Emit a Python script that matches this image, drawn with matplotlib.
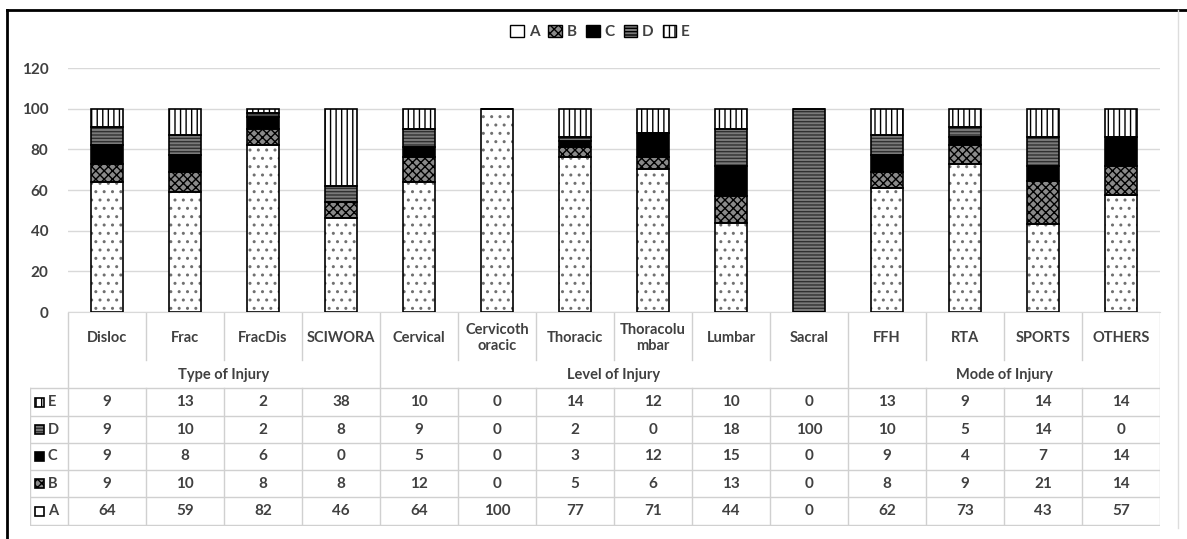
import numpy as np
import matplotlib.pyplot as plt
from matplotlib.patches import Patch, Rectangle
from matplotlib.lines import Line2D

plt.rcParams['font.family'] = ['Lato', 'DejaVu Sans']
plt.rcParams['hatch.linewidth'] = 1.0

categories = ["Disloc", "Frac", "FracDis", "SCIWORA", "Cervical", "Cervicoth\noracic",
              "Thoracic", "Thoracolu\nmbar", "Lumbar", "Sacral", "FFH", "RTA", "SPORTS", "OTHERS"]
groups = ["Type of Injury", "Level of Injury", "Mode of Injury"]
group_sizes = [4, 6, 4]

A = [64, 59, 82, 46, 64, 100, 77, 71, 44, 0, 62, 73, 43, 57]
B = [9, 10, 8, 8, 12, 0, 5, 6, 13, 0, 8, 9, 21, 14]
C = [9, 8, 6, 0, 5, 0, 3, 12, 15, 0, 9, 4, 7, 14]
D = [9, 10, 2, 8, 9, 0, 2, 0, 18, 100, 10, 5, 14, 0]
E = [9, 13, 2, 38, 10, 0, 14, 12, 10, 0, 13, 9, 14, 14]

series = {"A": A, "B": B, "C": C, "D": D, "E": E}
# face colour, hatch, hatch colour
styles = {
    "A": ("white", "..", "#707070"),
    "B": ("#8a8a8a", "xxxx", "black"),
    "C": ("black", None, "black"),
    "D": ("#7a7a7a", "-----", "#303030"),
    "E": ("white", "|||", "black"),
}

W, H = 1187, 539
TXT = "#404040"
GRID = "#d9d9d9"


def px(x0, y0, x1, y1):
    return [x0 / W, 1 - y1 / H, (x1 - x0) / W, (y1 - y0) / H]


fig = plt.figure(figsize=(W / 100, H / 100), dpi=100)

ax = fig.add_axes(px(68, 68, 1160, 312))
x = np.arange(len(categories))
# 100% stacked: each column scaled to its total
totals = np.sum([np.array(v) for v in series.values()], axis=0)
bottom = np.zeros(len(categories))
for name, vals in series.items():
    fc, hatch, hc = styles[name]
    h = np.array(vals) / totals * 100
    ax.bar(x, h, 0.41, bottom=bottom, color=fc, hatch=hatch, edgecolor=hc, linewidth=0, zorder=3)
    ax.bar(x, h, 0.41, bottom=bottom, fill=False, edgecolor="black", linewidth=1.2, zorder=4)
    bottom += h

ax.set_xlim(-0.5, 13.5)
ax.set_ylim(0, 120)
ax.set_yticks(range(0, 121, 20))
ax.set_xticks([])
ax.tick_params(axis="y", length=0, pad=14, labelsize=11, labelcolor=TXT)
for lab in ax.get_yticklabels():
    lab.set_fontweight("bold")
ax.grid(axis="y", color=GRID, linewidth=1, zorder=0)
for s in ["top", "right", "left"]:
    ax.spines[s].set_visible(False)
ax.spines["bottom"].set_color(GRID)

# data table below the bars
tab = fig.add_axes(px(30, 312, 1160, 526))
xl = -0.5 - 38 / 78
tab.set_xlim(xl, 13.5)
tab.set_ylim(526, 312)
tab.axis("off")

lc = "#d0d0d0"
row_y = [388, 416, 443, 470, 497, 525]
for yy in row_y:
    tab.plot([xl, 13.5], [yy, yy], color=lc, lw=1)
tab.plot([-0.5, -0.5], [313, 525], color=lc, lw=1)
tab.plot([xl, xl], [388, 525], color=lc, lw=1)
tab.plot([13.5, 13.5], [313, 525], color=lc, lw=1)
edges = np.cumsum(group_sizes)[:-1] - 0.5
for b in np.arange(0.5, 13.5, 1):
    if b in edges:
        tab.plot([b, b], [313, 525], color=lc, lw=1)
    else:
        tab.plot([b, b], [313, 360], color=lc, lw=1)
        tab.plot([b, b], [388, 525], color=lc, lw=1)

for i, cat in enumerate(categories):
    tab.text(i, 338, cat, ha="center", va="center", fontsize=10.5, color=TXT,
             fontweight="bold", linespacing=1.1)
start = 0
for g, n in zip(groups, group_sizes):
    tab.text(start + (n - 1) / 2, 375, g, ha="center", va="center", fontsize=10.5,
             color=TXT, fontweight="bold")
    start += n

row_names = ["E", "D", "C", "B", "A"]
for r, name in enumerate(row_names):
    yc = (row_y[r] + row_y[r + 1]) / 2
    fc, hatch, hc = styles[name]
    if name == "A":
        hatch = None
    sx = -0.5 + (35 - 68) / 78
    tab.add_patch(Rectangle((sx, yc - 4.5), 9 / 78, 9, facecolor=fc, hatch=hatch,
                            edgecolor=hc, linewidth=0))
    tab.add_patch(Rectangle((sx, yc - 4.5), 9 / 78, 9, fill=False, edgecolor="black", linewidth=1.2))
    tab.text(-0.5 + (48 - 68) / 78, yc, name, ha="left", va="center", fontsize=10.5,
             color=TXT, fontweight="bold")
    for i, v in enumerate(series[name]):
        tab.text(i, yc, str(v), ha="center", va="center", fontsize=11, color=TXT,
                 fontweight="bold")

# legend on top
handles = []
for name in series:
    fc, hatch, hc = styles[name]
    if name == "A":
        hatch = None
    handles.append(Patch(facecolor=fc, hatch=hatch, edgecolor="black", linewidth=1))
leg = fig.legend(handles, list(series.keys()), loc="center", bbox_to_anchor=(600 / W, 1 - 32 / H),
                 ncol=5, frameon=False, handlelength=0.9, handleheight=0.9, columnspacing=0.6,
                 handletextpad=0.3, fontsize=11, labelcolor=TXT)
for t in leg.get_texts():
    t.set_fontweight("bold")

# picture frame
fig.add_artist(Line2D([7 / W, 1], [1 - 10 / H, 1 - 10 / H], color="black", lw=2, transform=fig.transFigure))
fig.add_artist(Line2D([7 / W, 7 / W], [0, 1 - 10 / H], color="black", lw=2, transform=fig.transFigure))
fig.add_artist(Line2D([1178 / W, 1178 / W], [1 - 528 / H, 1 - 10 / H], color="#dddddd", lw=1,
                      transform=fig.transFigure))

fig.savefig("out.png", dpi=100)
